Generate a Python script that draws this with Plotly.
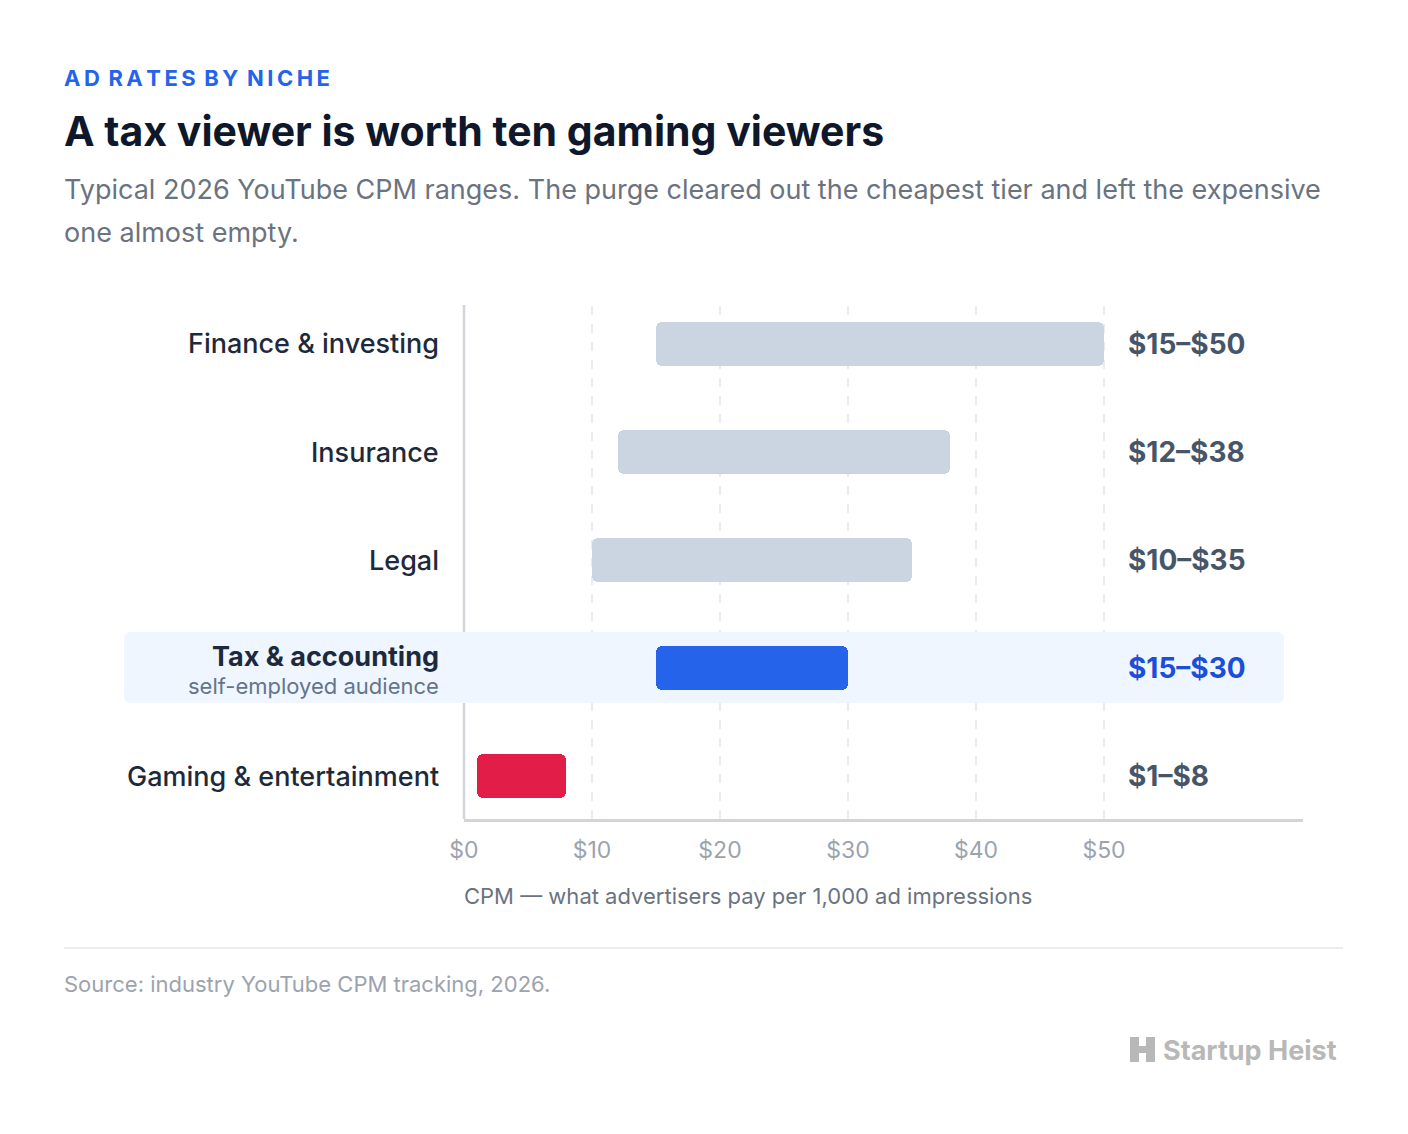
import plotly.graph_objects as go

# data
niches = ["Finance & investing", "Insurance", "Legal", "Tax & accounting", "Gaming & entertainment"]
cpm_low = [15, 12, 10, 15, 1]
cpm_high = [50, 38, 35, 30, 8]
range_labels = ["$15–$50", "$12–$38", "$10–$35", "$15–$30", "$1–$8"]
bar_colors = ["#cbd5e1", "#cbd5e1", "#cbd5e1", "#2563eb", "#e11d48"]
tick_vals = [0, 10, 20, 30, 40, 50]
tick_text = ["$0", "$10", "$20", "$30", "$40", "$50"]
highlight = 3

# page body has an 8px margin, so figure coords = screen coords - 8
OFF = 8
W, H = 1408 - 2 * OFF, 1134 - 2 * OFF
L, R, T, B = 464 - OFF, 1303 - OFF, 305 - OFF, 819 - OFF
FONT = "Inter"


def px_x(x):
    return (x - OFF - L) / (R - L)


def px_y(y):
    return (B - (y - OFF)) / (B - T)


fig = go.Figure()
fig.add_trace(go.Bar(
    y=list(range(len(niches))),
    x=[h - l for l, h in zip(cpm_low, cpm_high)],
    base=cpm_low,
    orientation="h",
    width=0.407,
    marker=dict(color=bar_colors, cornerradius=6, line=dict(width=0)),
    hoverinfo="skip",
))

shapes = []
# gridlines
for v in tick_vals[1:]:
    shapes.append(dict(type="line", xref="x", yref="paper", x0=v, x1=v, y0=0, y1=1,
                       line=dict(color="#e2e5ea", width=1.5, dash="dash"), layer="below"))
# y axis line
shapes.append(dict(type="line", xref="paper", yref="paper", x0=0, x1=0, y0=0, y1=1,
                   line=dict(color="#d1d5db", width=2.5), layer="below"))
# highlight band (rounded)
bx0, bx1 = px_x(124), px_x(1284)
by0, by1 = highlight - 0.333, highlight + 0.324
rx, ry = 7 / (R - L), 7 / 108
path = (f"M {bx0 + rx},{by0} L {bx1 - rx},{by0} Q {bx1},{by0} {bx1},{by0 + ry} "
        f"L {bx1},{by1 - ry} Q {bx1},{by1} {bx1 - rx},{by1} L {bx0 + rx},{by1} "
        f"Q {bx0},{by1} {bx0},{by1 - ry} L {bx0},{by0 + ry} Q {bx0},{by0} {bx0 + rx},{by0} Z")
shapes.append(dict(type="path", xref="paper", yref="y", path=path,
                   fillcolor="#eff6ff", line=dict(width=0), layer="below"))
# divider
shapes.append(dict(type="line", xref="paper", yref="paper", x0=px_x(64), x1=px_x(1343),
                   y0=px_y(948), y1=px_y(948), line=dict(color="#e5e7eb", width=1.5)))
# logo icon
ix0, ix1, iy0, iy1 = px_x(1130), px_x(1155), px_y(1062), px_y(1037)
shapes.append(dict(type="rect", xref="paper", yref="paper", x0=ix0, x1=ix1, y0=iy0, y1=iy1,
                   fillcolor="#b8b8b8", line=dict(width=0)))
shapes.append(dict(type="rect", xref="paper", yref="paper", x0=px_x(1139), x1=px_x(1146),
                   y0=px_y(1046), y1=iy1, fillcolor="white", line=dict(width=0)))
shapes.append(dict(type="rect", xref="paper", yref="paper", x0=px_x(1139), x1=px_x(1146),
                   y0=iy0, y1=px_y(1053), fillcolor="white", line=dict(width=0)))

annotations = []
for i, name in enumerate(niches):
    if i == highlight:
        annotations.append(dict(xref="paper", yref="y", x=0, y=i, xanchor="right", yanchor="middle",
                                xshift=-23, yshift=12, text="<b>" + name + "</b>", showarrow=False,
                                font=dict(family=FONT, size=27, color="#1e293b")))
        annotations.append(dict(xref="paper", yref="y", x=0, y=i, xanchor="right", yanchor="middle",
                                xshift=-23, yshift=-18, text="self-employed audience", showarrow=False,
                                font=dict(family=FONT, size=22, color="#64748b")))
        val_color = "#1d4ed8"
    else:
        annotations.append(dict(xref="paper", yref="y", x=0, y=i, xanchor="right", yanchor="middle",
                                xshift=-23, text=name, showarrow=False,
                                font=dict(family=FONT, size=27, color="#1e293b", weight=500)))
        val_color = "#475569"
    annotations.append(dict(xref="x", yref="y", x=52, y=i, xanchor="left", yanchor="middle",
                            xshift=-4, text="<b>" + range_labels[i] + "</b>", showarrow=False,
                            font=dict(family=FONT, size=28, color=val_color)))

eyebrow = "\u2009".join("AD RATES BY NICHE").replace("\u2009 \u2009", " \u2009")


def text_at(x, y, text, size, color, bold=False):
    annotations.append(dict(xref="paper", yref="paper", x=px_x(x), y=px_y(y), xanchor="left",
                            yanchor="middle", text=("<b>" + text + "</b>") if bold else text,
                            showarrow=False, font=dict(family=FONT, size=size, color=color)))


text_at(62, 78, eyebrow, 22, "#2563eb", bold=True)
text_at(62, 131, "A tax viewer is worth ten gaming viewers", 41, "#0f172a", bold=True)
text_at(62, 190, "Typical 2026 YouTube CPM ranges. The purge cleared out the cheapest tier and left the expensive",
        27, "#6b7280")
text_at(62, 232, "one almost empty.", 27, "#6b7280")
text_at(462, 896, "CPM — what advertisers pay per 1,000 ad impressions", 22, "#6b7280")
text_at(62, 984, "Source: industry YouTube CPM tracking, 2026.", 22, "#9ca3af")
text_at(1161, 1050, "Startup Heist", 27, "#b8b8b8", bold=True)

fig.update_layout(
    width=W, height=H,
    margin=dict(l=L, r=W - R, t=T, b=H - B, pad=0),
    paper_bgcolor="white", plot_bgcolor="rgba(0,0,0,0)",
    showlegend=False,
    bargap=0,
    shapes=shapes,
    annotations=annotations,
    font=dict(family=FONT),
    xaxis=dict(range=[0, (R - L) / 12.8], tickvals=tick_vals, ticktext=tick_text,
               showgrid=False, zeroline=False, showline=True, linecolor="#d1d5db", linewidth=2.5,
               ticks="", ticklabelstandoff=9, tickfont=dict(family=FONT, size=23, color="#9ca3af"),
               fixedrange=True),
    yaxis=dict(range=[4.398, -0.361], showgrid=False, zeroline=False, showline=False,
               showticklabels=False, fixedrange=True),
)

fig.write_html("out.html", config=dict(displayModeBar=False))
